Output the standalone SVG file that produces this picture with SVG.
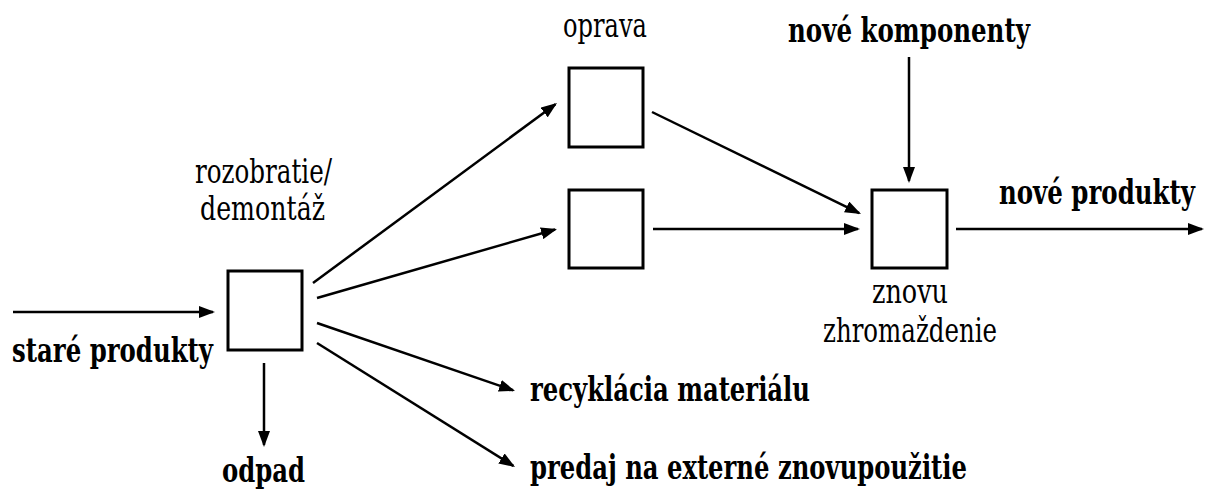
<svg xmlns="http://www.w3.org/2000/svg" width="1205" height="491" viewBox="0 0 1205 491">
  <style>
    .box { fill: #ffffff; stroke: #000000; stroke-width: 3; }
    .link { fill: none; stroke: #000000; stroke-width: 2.5; marker-end: url(#head); }
    .lbl { font-family: 'DejaVu Serif', 'Liberation Serif', serif; font-size: 33px; fill: #000000; }
    .bold { font-weight: bold; }
  </style>
  <defs>
    <marker id="head" markerUnits="userSpaceOnUse" markerWidth="17" markerHeight="12" refX="14" refY="6" orient="auto">
      <path d="M0,0 L16,6 L0,12 z" fill="#000000"/>
    </marker>
  </defs>
  <rect width="1205" height="491" fill="#ffffff"/>

  <!-- process steps -->
  <g id="disassembly">
    <rect class="box" x="228" y="271" width="74" height="79"/>
    <text class="lbl" x="195" y="183" textLength="137" lengthAdjust="spacingAndGlyphs">rozobratie/</text>
    <text class="lbl" x="200" y="220" textLength="125" lengthAdjust="spacingAndGlyphs">demontáž</text>
  </g>
  <g id="repair">
    <rect class="box" x="569" y="68" width="74" height="79"/>
    <text class="lbl" x="563" y="37" textLength="84" lengthAdjust="spacingAndGlyphs">oprava</text>
  </g>
  <g id="reuse">
    <rect class="box" x="569" y="190" width="74" height="78"/>
  </g>
  <g id="reassembly">
    <rect class="box" x="872" y="190" width="75" height="78"/>
    <text class="lbl" x="872" y="303" textLength="76" lengthAdjust="spacingAndGlyphs">znovu</text>
    <text class="lbl" x="823" y="342" textLength="174" lengthAdjust="spacingAndGlyphs">zhromaždenie</text>
  </g>

  <!-- inputs and outputs -->
  <g id="old-products">
    <text class="lbl bold" x="12" y="362" textLength="201" lengthAdjust="spacingAndGlyphs">staré produkty</text>
  </g>
  <g id="waste">
    <text class="lbl bold" x="222" y="482" textLength="83" lengthAdjust="spacingAndGlyphs">odpad</text>
  </g>
  <g id="new-components">
    <text class="lbl bold" x="788" y="42" textLength="242" lengthAdjust="spacingAndGlyphs">nové komponenty</text>
  </g>
  <g id="new-products">
    <text class="lbl bold" x="1195" y="204" text-anchor="end" textLength="196" lengthAdjust="spacingAndGlyphs">nové produkty</text>
  </g>
  <g id="recycling">
    <text class="lbl bold" x="530" y="401" textLength="280" lengthAdjust="spacingAndGlyphs">recyklácia materiálu</text>
  </g>
  <g id="external-reuse">
    <text class="lbl bold" x="530" y="479" textLength="437" lengthAdjust="spacingAndGlyphs">predaj na externé znovupoužitie</text>
  </g>

  <!-- flows -->
  <g id="connectors">
    <line class="link" x1="13" y1="312" x2="213" y2="312"/>
    <line class="link" x1="264" y1="363" x2="264" y2="445"/>
    <line class="link" x1="313" y1="283" x2="555.4" y2="104.2"/>
    <line class="link" x1="317" y1="298" x2="555.1" y2="229.5"/>
    <line class="link" x1="652" y1="112" x2="859.2" y2="213.1"/>
    <line class="link" x1="653" y1="229" x2="858" y2="229"/>
    <line class="link" x1="909" y1="57" x2="909" y2="181"/>
    <line class="link" x1="956" y1="229" x2="1202" y2="229"/>
    <line class="link" x1="317" y1="323" x2="513.1" y2="390.3"/>
    <line class="link" x1="317" y1="343" x2="513.3" y2="465.9"/>
  </g>
</svg>
